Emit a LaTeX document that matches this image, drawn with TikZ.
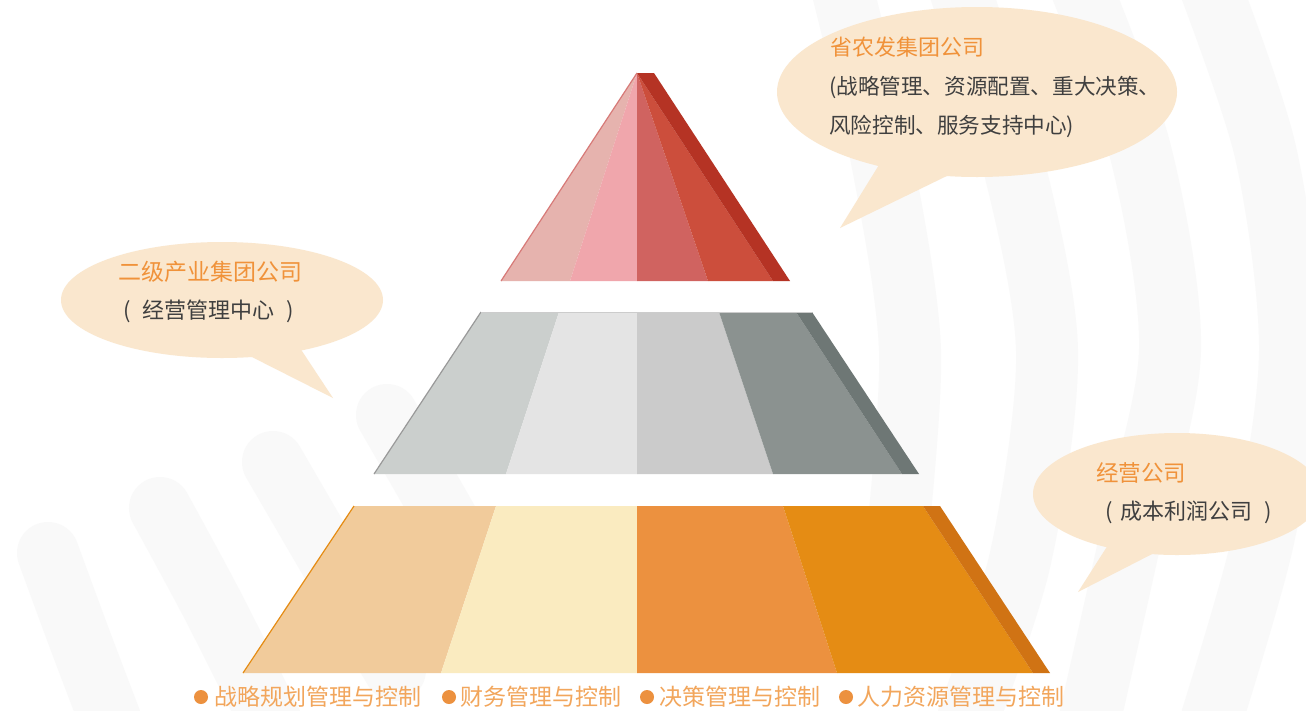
\documentclass[tikz,border=0pt]{standalone}
\usepackage{fontspec}
\setmainfont{Noto Sans CJK SC}
\definecolor{bgc}{HTML}{F9F9F9}
\definecolor{bub}{HTML}{FAE7CE}
\definecolor{ttl}{HTML}{F0923A}
\definecolor{txt}{HTML}{3F3F3F}
\definecolor{leg}{HTML}{F2A65C}
\definecolor{dot}{HTML}{EC913F}
\definecolor{ra}{HTML}{E6B3AE}
\definecolor{rb}{HTML}{F0A6AC}
\definecolor{rc}{HTML}{D06360}
\definecolor{rd}{HTML}{CC4E3C}
\definecolor{re}{HTML}{B53324}
\definecolor{ga}{HTML}{CBCFCD}
\definecolor{gb}{HTML}{E4E4E4}
\definecolor{gc}{HTML}{CBCBCB}
\definecolor{gd}{HTML}{8B9290}
\definecolor{ge}{HTML}{6E7775}
\definecolor{oa}{HTML}{F1CB9B}
\definecolor{ob}{HTML}{FAEBC0}
\definecolor{oc}{HTML}{EC913F}
\definecolor{od}{HTML}{E58C14}
\definecolor{oe}{HTML}{D07314}
\tikzset{
  bgband/.style={draw=bgc, line width=62pt, line cap=round},
  bubble/.style={fill=bub, draw=none},
  ttltext/.style={anchor=west, inner sep=0pt, text=ttl, font=\fontsize{22}{26}\selectfont},
  bodytext/.style={anchor=west, inner sep=0pt, text=txt, font=\fontsize{21.6}{25}\selectfont},
  legtext/.style={anchor=west, inner sep=0pt, text=leg, font=\fontsize{23}{27}\selectfont},
  legdot/.style={circle, fill=dot, inner sep=0pt, minimum size=14pt}
}
\begin{document}
\begin{tikzpicture}[x=1pt,y=-1pt]
\useasboundingbox (0,0) rectangle (1306,710);
\fill[white] (0,0) rectangle (1306,710);
% faint background bands
\draw[bgband] plot[smooth] coordinates {(835,-40) (880,150) (910,350) (895,560)};
\draw[bgband] plot[smooth] coordinates {(950,-40) (1010,150) (1047,350) (1020,560) (960,740)};
\draw[bgband] plot[smooth] coordinates {(1070,-40) (1140,150) (1170,350) (1130,540) (1085,740)};
\draw[bgband] plot[smooth] coordinates {(1200,-40) (1265,150) (1290,350) (1263,540) (1205,740)};
\draw[bgband] plot[smooth] coordinates {(48,553) (80,640) (118,740)};
\draw[bgband] plot[smooth] coordinates {(160,508) (215,610) (280,740)};
\draw[bgband] plot[smooth] coordinates {(273,462) (330,560) (395,670)};
\draw[bgband] plot[smooth] coordinates {(387,415) (430,490) (470,560)};
% speech bubbles
\fill[bubble] (977,92) ellipse[x radius=200, y radius=85];
\fill[bubble] (882,160) -- (840,228) -- (955,172) -- cycle;
\fill[bubble] (222,300) ellipse[x radius=161, y radius=58];
\fill[bubble] (242,352) -- (333,398) -- (298,345) -- cycle;
\fill[bubble] (1177,494) ellipse[x radius=144, y radius=61];
\fill[bubble] (1108,545) -- (1078,592) -- (1160,550) -- cycle;
% top triangle
\fill[ra] (637,73) -- (501,281) -- (570,281) -- cycle;
\fill[rb] (637,73) -- (570,281) -- (637,281) -- cycle;
\fill[rc] (637,73) -- (637,281) -- (708,281) -- cycle;
\fill[rd] (637,73) -- (708,281) -- (773,281) -- cycle;
\fill[re] (637,73) -- (654,73) -- (790,281) -- (773,281) -- cycle;
\draw[draw=rc!85!white, line width=1.2pt] (637,73) -- (501,281);
% middle trapezoid
\fill[ga] (481,312) -- (559,312) -- (506,474) -- (374,474) -- cycle;
\fill[gb] (559,312) -- (637,312) -- (637,474) -- (506,474) -- cycle;
\fill[gc] (637,312) -- (719,312) -- (773,474) -- (637,474) -- cycle;
\fill[gd] (719,312) -- (796,312) -- (902,474) -- (773,474) -- cycle;
\fill[ge] (796,312) -- (812,312) -- (919,474) -- (902,474) -- cycle;
\draw[draw=gray!80, line width=1.2pt] (481,312) -- (374,474);
\draw[draw=gray!40, line width=0.6pt] (481,312) -- (812,312);
% bottom trapezoid
\fill[oa] (354,506) -- (496,506) -- (441,673) -- (243,673) -- cycle;
\fill[ob] (496,506) -- (637,506) -- (637,673) -- (441,673) -- cycle;
\fill[oc] (637,506) -- (783,506) -- (837,673) -- (637,673) -- cycle;
\fill[od] (783,506) -- (923,506) -- (1033,673) -- (837,673) -- cycle;
\fill[oe] (923,506) -- (940,506) -- (1050,673) -- (1033,673) -- cycle;
\draw[draw=od, line width=1.2pt] (354,506) -- (243,673);
% bubble texts
\node[ttltext] (t1) at (830,47) {省农发集团公司};
\node[bodytext] (t1a) at (829,87) {(战略管理、资源配置、重大决策、};
\node[bodytext] (t1b) at (829,126) {风险控制、服务支持中心)};
\node[ttltext, font=\fontsize{23}{27}\selectfont] (t2) at (118,272) {二级产业集团公司};
\node[bodytext, font=\fontsize{22}{26}\selectfont] (t2a) at (123,311) {(\hspace{12pt}经营管理中心\hspace{12pt})};
\node[ttltext, font=\fontsize{22.5}{26}\selectfont] (t3) at (1096,473) {经营公司};
\node[bodytext, font=\fontsize{22}{26}\selectfont] (t3a) at (1105,512) {(\hspace{8pt}成本利润公司\hspace{12pt})};
% legend
\node[legdot] (d1) at (201,697) {};
\node[legtext] (l1) at (214,697) {战略规划管理与控制};
\node[legdot] (d2) at (449,697) {};
\node[legtext] (l2) at (460,697) {财务管理与控制};
\node[legdot] (d3) at (647,697) {};
\node[legtext] (l3) at (659,697) {决策管理与控制};
\node[legdot] (d4) at (846,697) {};
\node[legtext] (l4) at (857,697) {人力资源管理与控制};
\end{tikzpicture}
\end{document}
